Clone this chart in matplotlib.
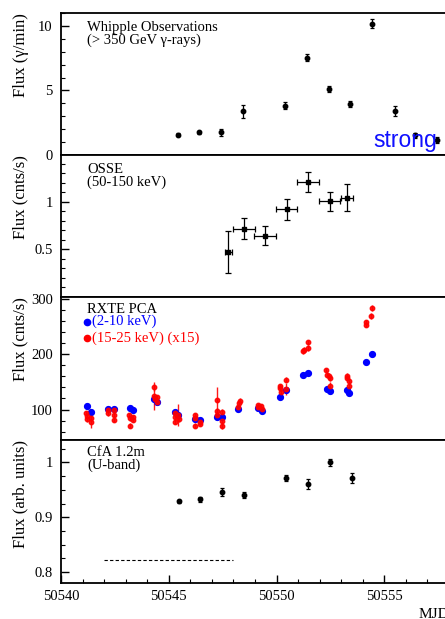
import matplotlib
matplotlib.use("Agg")
import matplotlib.pyplot as plt
import matplotlib.ticker as ticker
from matplotlib import font_manager

plt.rcParams['font.family'] = ['Liberation Serif', 'DejaVu Serif']

# Whipple (> 350 GeV)
whip_mjd = [50545.41, 50546.40, 50547.42, 50548.45, 50550.40, 50551.39,
            50552.41, 50553.40, 50554.42, 50555.48, 50556.44, 50557.46]
whip_flux = [1.58, 1.76, 1.76, 3.39, 3.83, 7.54, 5.13, 3.94, 10.18, 3.42, 1.53, 1.17]
whip_err = [0.12, 0.12, 0.25, 0.5, 0.25, 0.28, 0.25, 0.22, 0.35, 0.4, 0.2, 0.25]

# OSSE (50-150 keV)
osse_mjd = [50547.77, 50548.48, 50549.47, 50550.48, 50551.48, 50552.47, 50553.28]
osse_flux = [0.476, 0.717, 0.645, 0.921, 1.21, 1.007, 1.041]
osse_yerr = [0.22, 0.107, 0.103, 0.112, 0.105, 0.10, 0.14]
osse_xerr = [0.16, 0.52, 0.51, 0.49, 0.51, 0.49, 0.28]

# RXTE PCA 2-10 keV
pca_mjd = [50541.19, 50541.38, 50542.17, 50542.46, 50543.18, 50543.34, 50544.33,
           50544.44, 50545.29, 50545.44, 50546.21, 50546.44, 50547.25, 50547.45,
           50548.22, 50549.13, 50549.32, 50550.17, 50550.43, 50551.25, 50551.45,
           50552.32, 50552.46, 50553.26, 50553.37, 50554.17, 50554.42]
pca_flux = [106.7, 95.3, 101.8, 101.4, 103, 100, 118.8, 112.7, 95.3, 90.4, 82.6,
            81, 86.2, 86.2, 101.4, 102, 98, 121.7, 135.6, 162.2, 166.4, 136.8,
            133.8, 135.6, 129, 186.3, 199.5]

# RXTE PCA 15-25 keV (x15)
hard_mjd = [50541.17, 50541.19, 50541.22, 50541.37, 50541.40,
            50542.17, 50542.19, 50542.45, 50542.47, 50542.48,
            50543.16, 50543.18, 50543.20, 50543.32, 50543.34,
            50544.30, 50544.33, 50544.38, 50544.44, 50544.46,
            50545.27, 50545.29, 50545.31, 50545.44, 50545.46,
            50546.20, 50546.22, 50546.23, 50546.43, 50546.45,
            50547.24, 50547.25, 50547.26, 50547.45, 50547.46, 50547.47,
            50548.20, 50548.25, 50548.30,
            50549.13, 50549.16, 50549.30, 50549.33,
            50550.15, 50550.17, 50550.19, 50550.42, 50550.44,
            50551.24, 50551.26, 50551.44, 50551.46,
            50552.30, 50552.32, 50552.45, 50552.47, 50552.46,
            50553.25, 50553.28, 50553.35, 50553.37,
            50554.15, 50554.17, 50554.40, 50554.43]
hard_flux = [94, 88, 83, 84, 78,
             99, 93, 99, 91, 81,
             90, 84, 71, 86, 81,
             140, 124, 119, 122, 114,
             93, 86, 78, 90, 83,
             90, 84, 71, 77, 74,
             118, 97, 90, 96, 80, 71,
             105, 111, 116,
             108, 104, 106, 101,
             142, 138, 132, 154, 137,
             205, 208, 221, 211,
             171, 163, 160, 156, 142,
             161, 157, 152, 143,
             257, 253, 269, 283]
hard_err = [4, 5, 5, 5, 12,
            4, 4, 4, 5, 4,
            4, 5, 5, 4, 4,
            6, 25, 5, 5, 6,
            4, 5, 5, 20, 5,
            4, 4, 4, 4, 4,
            22, 5, 5, 5, 5, 6,
            4, 4, 4,
            4, 4, 4, 4,
            4, 5, 4, 5, 10,
            4, 4, 5, 5,
            4, 5, 5, 5, 8,
            4, 4, 4, 5,
            5, 5, 5, 5]

# CfA 1.2m U-band
cfa_mjd = [50545.49, 50546.47, 50547.48, 50548.47, 50550.42, 50551.48, 50552.47, 50553.48]
cfa_flux = [0.9294, 0.9325, 0.9466, 0.9405, 0.9718, 0.960, 1.000, 0.971]
cfa_err = [0.003, 0.004, 0.007, 0.005, 0.005, 0.009, 0.006, 0.009]
ref_mjd = [50542.0, 50548.0]
ref_level = [0.822, 0.822]

fig = plt.figure(figsize=(4.45, 6.19), dpi=100)
W, H = 445.0, 619.0
left = 61 / W
width = 388 / W
tops = [13, 155, 297, 440]
bots = [155, 297, 440, 583]
axes = [fig.add_axes([left, 1 - b / H, width, (b - t) / H]) for t, b in zip(tops, bots)]

for ax in axes:
    ax.set_xlim(50540, 50558)
    for s in ax.spines.values():
        s.set_linewidth(1.3)
    ax.tick_params(axis='y', which='both', direction='in', left=True, right=False,
                   labelsize=10.5, pad=6)
    ax.tick_params(axis='y', which='major', length=6, width=1)
    ax.tick_params(axis='y', which='minor', length=3, width=0.8)
    ax.tick_params(axis='x', which='both', bottom=False, top=False, labelbottom=False)
    ax.xaxis.set_minor_locator(ticker.MultipleLocator(1))

ekw = dict(fmt='o', color='black', ms=3.2, elinewidth=0.9, capsize=1.5, capthick=0.9)

# Whipple
ax = axes[0]
ax.errorbar(whip_mjd, whip_flux, yerr=whip_err, **ekw)
ax.set_ylim(0, 11)
ax.set_yticks([0, 5, 10])
ax.yaxis.set_minor_locator(ticker.MultipleLocator(1))
ax.set_ylabel('Flux (γ/min)', loc='top', fontsize=12)
ax.text(0.067, 0.945, 'Whipple Observations\n(> 350 GeV γ-rays)', transform=ax.transAxes,
        fontsize=10.5, va='top', ha='left', linespacing=0.95)

# OSSE
ax = axes[1]
ax.errorbar(osse_mjd, osse_flux, yerr=osse_yerr, xerr=osse_xerr,
            fmt='s', color='black', ms=2.5, elinewidth=0.9, capsize=2, capthick=0.9)
ax.set_ylim(0, 1.49)
ax.set_yticks([0.5, 1])
ax.set_yticklabels(['0.5', '1'])
ax.yaxis.set_minor_locator(ticker.MultipleLocator(0.1))
ax.set_ylabel('Flux (cnts/s)', loc='top', fontsize=12)
ax.text(0.067, 0.945, 'OSSE\n(50-150 keV)', transform=ax.transAxes,
        fontsize=10.5, va='top', ha='left', linespacing=0.95)

# RXTE
ax = axes[2]
ax.errorbar(hard_mjd, hard_flux, yerr=hard_err, fmt='o', color='red', ms=3.2,
            elinewidth=1.0, capsize=0, alpha=0.9)
ax.plot(pca_mjd, pca_flux, 'o', color='blue', ms=4.2)
ax.set_ylim(45, 303)
ax.set_yticks([100, 200, 300])
ax.yaxis.set_minor_locator(ticker.MultipleLocator(20))
ax.set_ylabel('Flux (cnts/s)', loc='top', fontsize=12)
ax.text(0.067, 0.96, 'RXTE PCA', transform=ax.transAxes,
        fontsize=10.5, va='top', ha='left')
ax.plot([0.067], [0.827], 'o', color='blue', ms=4.5, transform=ax.transAxes)
ax.text(0.080, 0.827, '(2-10 keV)', transform=ax.transAxes, color='blue',
        fontsize=10.5, va='center', ha='left')
ax.plot([0.067], [0.71], 'o', color='red', ms=4.5, transform=ax.transAxes)
ax.text(0.080, 0.71, '(15-25 keV) (x15)', transform=ax.transAxes, color='red',
        fontsize=10.5, va='center', ha='left')

# CfA
ax = axes[3]
ax.errorbar(cfa_mjd, cfa_flux, yerr=cfa_err, **ekw)
ax.plot(ref_mjd, ref_level, color='black', lw=0.8, ls=(0, (3, 2)))
ax.set_ylim(0.78, 1.041)
ax.set_yticks([0.8, 0.9, 1.0])
ax.set_yticklabels(['0.8', '0.9', '1'])
ax.yaxis.set_minor_locator(ticker.MultipleLocator(0.025))
ax.set_ylabel('Flux (arb. units)', loc='top', fontsize=12)
ax.text(0.067, 0.96, 'CfA 1.2m\n(U-band)', transform=ax.transAxes,
        fontsize=10.5, va='top', ha='left', linespacing=0.95)
ax.tick_params(axis='x', which='both', bottom=True, labelbottom=True,
               direction='in', labelsize=10.5, pad=5)
ax.tick_params(axis='x', which='major', length=6, width=1)
ax.tick_params(axis='x', which='minor', length=3, width=0.8)
ax.set_xticks([50540, 50545, 50550, 50555])
ax.xaxis.set_major_formatter(ticker.FormatStrFormatter('%d'))
ax.set_xlabel('MJD', loc='right', fontsize=11)

for ax in axes:
    ax.yaxis.set_label_coords(-0.083, 1.0)

names = {f.name for f in font_manager.fontManager.ttflist}
if 'Liberation Sans Narrow' in names:
    sfam, ssize = ['Liberation Sans Narrow'], 19.5
else:
    sfam, ssize = ['Liberation Sans', 'DejaVu Sans'], 16.5
fig.text(373 / W, 1 - 146.5 / H, 'strong', color='#1010ff', fontsize=ssize,
         family=sfam, ha='left', va='baseline')

fig.savefig('out.png', dpi=100)
